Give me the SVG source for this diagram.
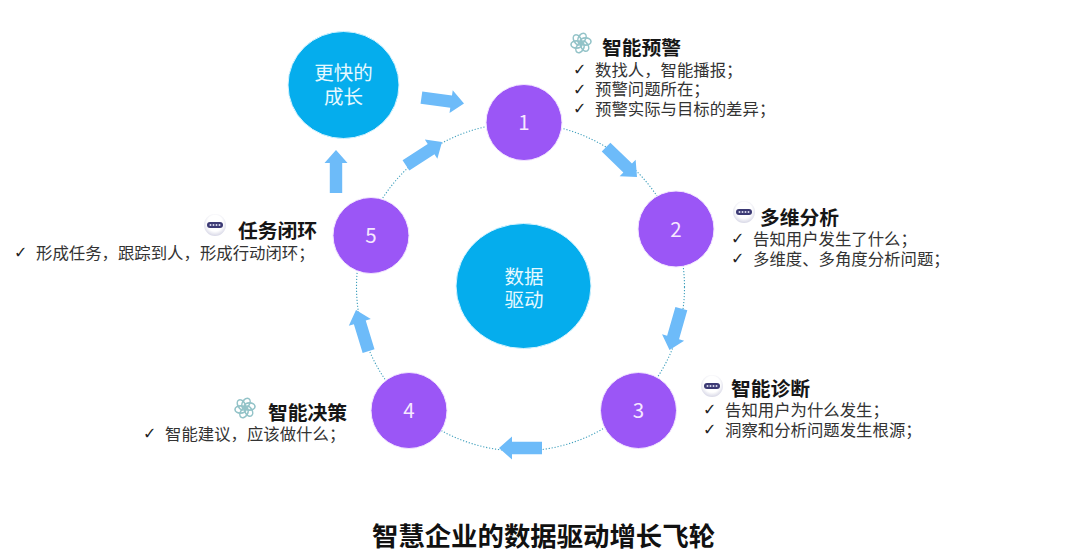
<svg xmlns="http://www.w3.org/2000/svg" width="1080" height="554" viewBox="0 0 1080 554">
<style>
text{font-family:"Noto Sans CJK SC","Noto Sans",sans-serif}
.p{fill:#9B56F6;stroke:#F3E6FF;stroke-width:1}
.b{fill:#05ADED;stroke:#D8F4FF;stroke-width:1}
.n{fill:#F6E8FF;font-size:20.5px;text-anchor:middle}
.w{fill:#E6F9FF;font-size:19.5px;text-anchor:middle}
.h{fill:#161616;font-size:19.8px;font-weight:700}
.t{fill:#333;font-size:16.4px}
.c{fill:#222;font-size:16px;font-family:"DejaVu Sans",sans-serif}
.a{fill:#6DBBF9}
.ring{fill:none;stroke:#3F9FBC;stroke-width:1.1;stroke-dasharray:1.2 1.8}
.k{fill:none;stroke:#93C3C8;stroke-width:1.6}
</style>
<defs>
<radialGradient id="pg" cx="50%" cy="42%" r="60%"><stop offset="0.6" stop-color="#fff"/><stop offset="1" stop-color="#D4D4E4"/></radialGradient>
<polygon id="ar" points="-43,-6.2 -13,-6.2 -13,-11.5 0,0 -13,11.5 -13,6.2 -43,6.2"/>
<g id="pill"><circle r="11" fill="url(#pg)"/><rect x="-8" y="-3" width="16" height="6" rx="3" fill="#3C3A74"/><g fill="#DDDDF0"><circle cx="-4.500" r="1"/><circle cx="-1.500" r="1"/><circle cx="1.500" r="1"/><circle cx="4.500" r="1"/></g></g>
<ellipse id="petal" cx="4.500" cy="-1.500" rx="5.500" ry="3.600"/>
<g id="knot" class="k"><use href="#petal"/><use href="#petal" transform="rotate(60)"/><use href="#petal" transform="rotate(120)"/><use href="#petal" transform="rotate(180)"/><use href="#petal" transform="rotate(240)"/><use href="#petal" transform="rotate(300)"/></g>
</defs>
<rect width="1080" height="554" fill="#fff"/>
<g id="connectors">
<circle class="ring" cx="520.500" cy="287" r="164"/>
<use href="#ar" class="a" transform="translate(464,103.500) rotate(8)"/>
<use href="#ar" class="a" transform="translate(637,177) rotate(44)"/>
<use href="#ar" class="a" transform="translate(669.500,350) rotate(106)"/>
<use href="#ar" class="a" transform="translate(499,448) rotate(180)"/>
<use href="#ar" class="a" transform="translate(356,310) rotate(-107)"/>
<use href="#ar" class="a" transform="translate(442,142) rotate(-33)"/>
<use href="#ar" class="a" transform="translate(336,150) rotate(-90)"/>
</g>
<g id="node-growth"><ellipse class="b" cx="343.500" cy="85" rx="55.500" ry="53.500"/><text class="w" x="343.500" y="80">更快的</text><text class="w" x="343.500" y="104">成长</text></g>
<g id="node-center"><ellipse class="b" cx="523.500" cy="286" rx="67.500" ry="62.500"/><text class="w" x="524" y="284">数据</text><text class="w" x="524" y="307">驱动</text></g>
<g id="node-1"><circle class="p" cx="524" cy="122.500" r="38"/><text class="n" x="524" y="130">1</text></g>
<g id="node-2"><circle class="p" cx="676" cy="229" r="38"/><text class="n" x="676" y="236.500">2</text></g>
<g id="node-3"><circle class="p" cx="638.500" cy="410.500" r="38"/><text class="n" x="638.500" y="418">3</text></g>
<g id="node-4"><circle class="p" cx="409" cy="410.500" r="38"/><text class="n" x="409" y="418">4</text></g>
<g id="node-5"><circle class="p" cx="371" cy="235.500" r="38"/><text class="n" x="371" y="243">5</text></g>
<g id="label-1"><use href="#knot" transform="translate(581,43)"/><text class="h" x="602" y="55">智能预警</text>
<text class="c" x="573" y="75">✓</text><text class="t" x="595" y="75.500">数找人，智能播报；</text>
<text class="c" x="573" y="94.500">✓</text><text class="t" x="595" y="95">预警问题所在；</text>
<text class="c" x="573" y="114">✓</text><text class="t" x="595" y="114.500">预警实际与目标的差异；</text></g>
<g id="label-2"><use href="#pill" transform="translate(744,212)"/><text class="h" x="760" y="225">多维分析</text>
<text class="c" x="731" y="244">✓</text><text class="t" x="753" y="244.500">告知用户发生了什么；</text>
<text class="c" x="731" y="264">✓</text><text class="t" x="753" y="264.500">多维度、多角度分析问题；</text></g>
<g id="label-3"><use href="#pill" transform="translate(712,386)"/><text class="h" x="731" y="396">智能诊断</text>
<text class="c" x="703" y="415">✓</text><text class="t" x="725" y="415.500">告知用户为什么发生；</text>
<text class="c" x="703" y="435">✓</text><text class="t" x="725" y="435.500">洞察和分析问题发生根源；</text></g>
<g id="label-4"><use href="#knot" transform="translate(245,408)"/><text class="h" x="268" y="420">智能决策</text>
<text class="c" x="143" y="439">✓</text><text class="t" x="165" y="439.500">智能建议，应该做什么；</text></g>
<g id="label-5"><use href="#pill" transform="translate(215,225)"/><text class="h" x="238" y="238">任务闭环</text>
<text class="c" x="14" y="258">✓</text><text class="t" x="36" y="258.500">形成任务，跟踪到人，形成行动闭环；</text></g>
<text id="title" x="543.500" y="546" text-anchor="middle" font-size="26.400" font-weight="700" fill="#111">智慧企业的数据驱动增长飞轮</text>
</svg>
